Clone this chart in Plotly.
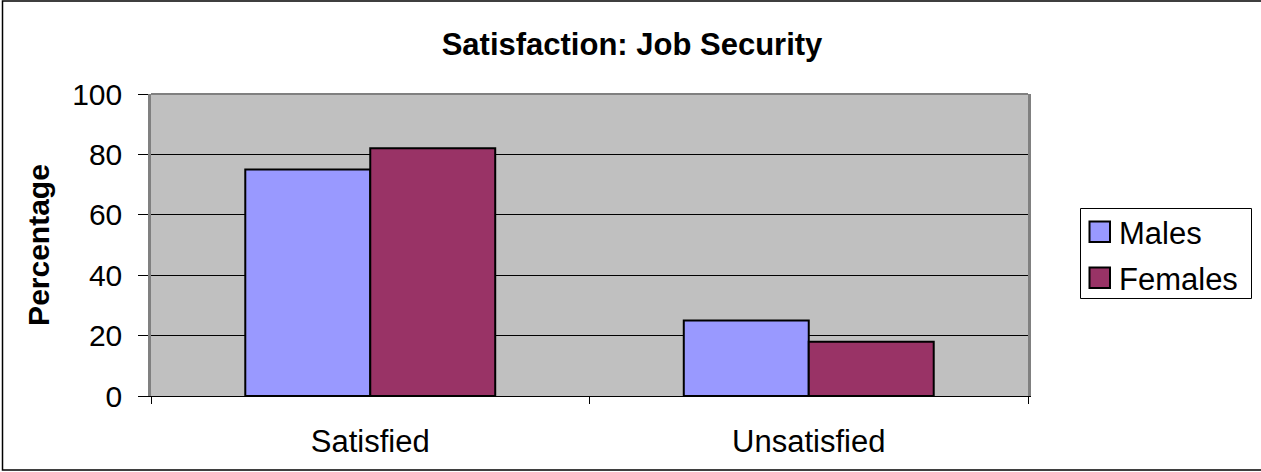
import plotly.graph_objects as go

categories = ["Satisfied", "Unsatisfied"]
series_names = ["Males", "Females"]
males = [75, 25]
females = [82, 18]
y_ticks = [0, 20, 40, 60, 80, 100]
colors = ["#9999FF", "#993366"]

W, H = 1261, 472
ML, MR, MT, MB = 151, 233, 94, 76
PW, PH = W - ML - MR, H - MT - MB
FONT = "Arial, Liberation Sans, sans-serif"


def px_x(p):
    return (p - ML) / PW


def px_y(p):
    return (H - MB - p) / PH


fig = go.Figure()
for name, vals, col in zip(series_names, [males, females], colors):
    fig.add_trace(go.Bar(name=name, x=categories, y=vals, showlegend=False,
                         marker=dict(color=col, line=dict(color="black", width=2))))

shapes = [
    # top edge of the plotting area
    dict(type="line", xref="paper", yref="paper", x0=0, x1=1, y0=1, y1=1,
         line=dict(color="#808080", width=2)),
    # outer chart frame
    dict(type="rect", xref="paper", yref="paper",
         x0=px_x(2.5), x1=px_x(1266), y0=px_y(1), y1=px_y(470),
         line=dict(color="black", width=1.5)),
    # legend box
    dict(type="rect", xref="paper", yref="paper",
         x0=px_x(1080.5), x1=px_x(1251.5), y0=px_y(208.5), y1=px_y(298.5),
         line=dict(color="black", width=1), fillcolor="white"),
]
annotations = []
legend_rows = [232, 278]
for name, col, cy in zip(series_names, colors, legend_rows):
    shapes.append(dict(type="rect", xref="paper", yref="paper",
                       x0=px_x(1089.5), x1=px_x(1110), y0=px_y(cy - 10.5), y1=px_y(cy + 10),
                       line=dict(color="black", width=2), fillcolor=col))
    annotations.append(dict(text=name, xref="paper", yref="paper", x=px_x(1117), y=px_y(cy + 1),
                            xanchor="left", yanchor="middle", showarrow=False,
                            font=dict(size=31, family=FONT, color="black")))

fig.update_layout(
    width=W, height=H,
    margin=dict(l=ML, r=MR, t=MT, b=MB, pad=0),
    paper_bgcolor="white",
    plot_bgcolor="#C0C0C0",
    barmode="group",
    bargap=0.43,
    bargroupgap=0,
    showlegend=False,
    font=dict(family=FONT, color="black", size=30),
    title=dict(text="<b>Satisfaction: Job Security</b>", x=632 / W,
               xanchor="center", y=1 - 44 / H, yanchor="middle",
               font=dict(size=31)),
    xaxis=dict(showgrid=False, showline=True, linecolor="black", linewidth=1,
               ticks="outside", tickson="boundaries", ticklen=7, tickcolor="black",
               tickfont=dict(size=31), ticklabelstandoff=18),
    yaxis=dict(range=[0, 100], tickvals=y_ticks, showgrid=True, gridcolor="black",
               gridwidth=1, showline=True, linecolor="#808080", linewidth=2.5, mirror=True,
               ticks="outside", ticklen=10, tickcolor="black", zeroline=False,
               tickfont=dict(size=30), ticklabelstandoff=10,
               title=dict(text="<b>Percentage</b>", font=dict(size=30), standoff=14)),
    shapes=shapes,
    annotations=annotations,
)

fig.write_html("out.html")
